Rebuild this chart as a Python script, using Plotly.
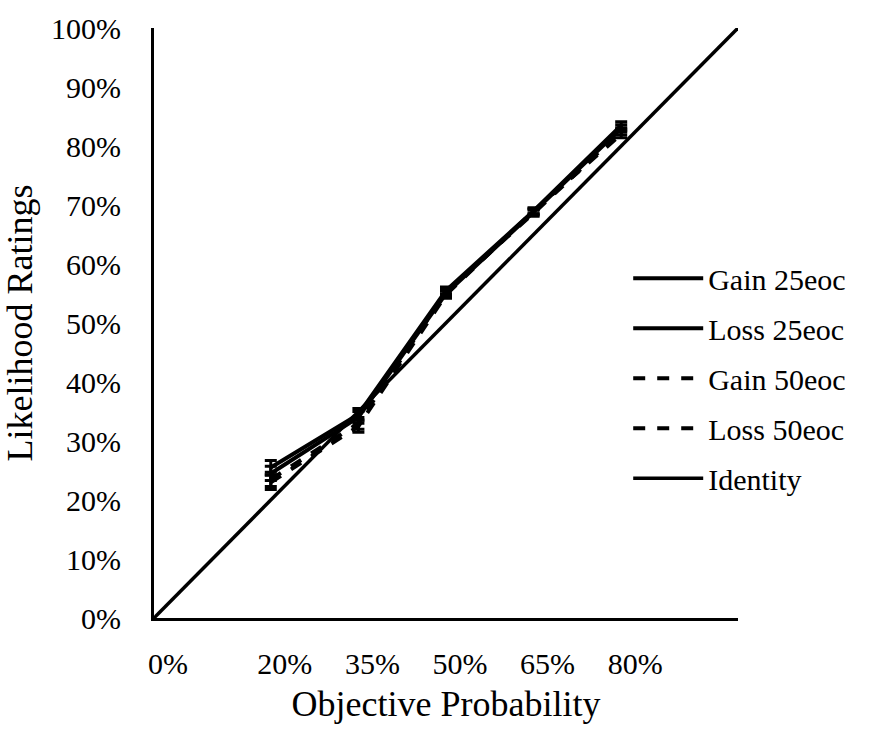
import plotly.graph_objects as go

# Objective probabilities shown to participants
probabilities = [0.20, 0.35, 0.50, 0.65, 0.80]

# Mean likelihood ratings per condition
gain_25eoc = [0.255, 0.345, 0.555, 0.690, 0.835]
loss_25eoc = [0.245, 0.340, 0.550, 0.688, 0.830]
gain_50eoc = [0.235, 0.330, 0.553, 0.686, 0.825]
loss_50eoc = [0.230, 0.325, 0.548, 0.690, 0.820]

# Standard errors per condition
err_gain_25 = [0.012, 0.010, 0.006, 0.005, 0.006]
err_loss_25 = [0.012, 0.010, 0.006, 0.005, 0.006]
err_gain_50 = [0.012, 0.010, 0.006, 0.005, 0.006]
err_loss_50 = [0.012, 0.010, 0.006, 0.005, 0.006]

# Identity reference line
identity_x = [0.0, 1.0]
identity_y = [0.0, 1.0]

# Axis tick labels
x_tickvals = [0.0, 0.20, 0.35, 0.50, 0.65, 0.80]
x_ticktext = ["0%", "20%", "35%", "50%", "65%", "80%"]
y_tickvals = [0.0, 0.1, 0.2, 0.3, 0.4, 0.5, 0.6, 0.7, 0.8, 0.9, 1.0]
y_ticktext = ["0%", "10%", "20%", "30%", "40%", "50%", "60%", "70%", "80%", "90%", "100%"]

FONT = "Liberation Serif"

series = [
    ("Gain 25eoc", gain_25eoc, err_gain_25, "solid"),
    ("Loss 25eoc", loss_25eoc, err_loss_25, "solid"),
    ("Gain 50eoc", gain_50eoc, err_gain_50, "dash"),
    ("Loss 50eoc", loss_50eoc, err_loss_50, "dash"),
]

fig = go.Figure()
for name, values, errs, dash in series:
    fig.add_trace(go.Scatter(
        x=probabilities, y=values, name=name, mode="lines",
        legendgroup=name,
        line=dict(color="black", width=4, dash=dash),
        error_y=dict(type="data", array=errs, visible=True,
                     color="black", thickness=3, width=6),
    ))

fig.add_trace(go.Scatter(
    x=identity_x, y=identity_y, name="Identity", mode="lines",
    legendgroup="Identity",
    line=dict(color="black", width=3.5),
))

fig.update_layout(
    width=880, height=750,
    margin=dict(l=154, r=142, t=28, b=132),
    paper_bgcolor="white", plot_bgcolor="white",
    font=dict(family=FONT, color="black", size=30),
    showlegend=True,
    legend=dict(
        x=0.812, y=0.62, xanchor="left", yanchor="top",
        bgcolor="rgba(0,0,0,0)",
        font=dict(family=FONT, size=30, color="black"),
        tracegroupgap=8, itemwidth=70,
    ),
)

fig.update_xaxes(
    range=[0, 1], tickmode="array", tickvals=x_tickvals, ticktext=x_ticktext,
    showgrid=False, zeroline=False, showline=True, linecolor="black", linewidth=3,
    ticks="", ticklabelshift=14, ticklabelstandoff=17,
    tickfont=dict(family=FONT, size=30, color="black"),
    title=dict(text="Objective Probability", standoff=12,
               font=dict(family=FONT, size=36, color="black")),
)
fig.update_yaxes(
    range=[0, 1], tickmode="array", tickvals=y_tickvals, ticktext=y_ticktext,
    showgrid=False, zeroline=False, showline=True, linecolor="black", linewidth=3,
    ticks="", ticklabelstandoff=24,
    tickfont=dict(family=FONT, size=30, color="black"),
    title=dict(text="Likelihood Ratings", standoff=8,
               font=dict(family=FONT, size=36, color="black")),
)

fig.write_html("out.html")
